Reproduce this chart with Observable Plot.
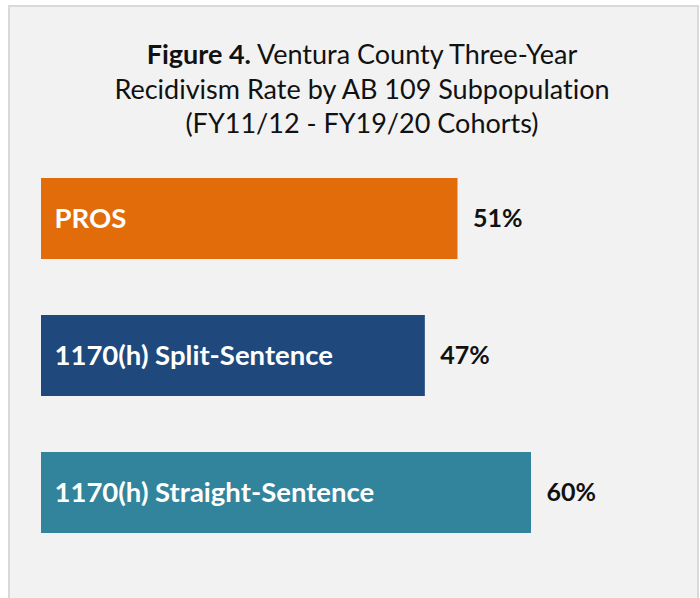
<!DOCTYPE html>
<html>
<head>
<meta charset="utf-8">
<script src="https://cdn.jsdelivr.net/npm/d3@7"></script>
<script src="https://cdn.jsdelivr.net/npm/@observablehq/plot@0.6"></script>
<style>
  html, body { margin: 0; padding: 0; width: 700px; height: 598px; overflow: hidden; background: #ffffff; font-variant-ligatures: none; }
  #frame { position: absolute; left: 8px; top: 5px; width: 687px; height: 620px; background: #f2f2f2; border: 2px solid #d9d9d9; }
  #title { position: absolute; left: 8px; width: 708px; top: 37px; text-align: center; font-family: Lato, "Open Sans", sans-serif; font-size: 27px; line-height: 34.5px; color: #111; font-variant-ligatures: none; }
  #chart { position: absolute; left: 0; top: 0; }
  #chart text { font-variant-ligatures: none; }
</style>
</head>
<body>
<div id="frame"></div>
<div id="title"><b>Figure 4.</b> Ventura County Three-Year<br>Recidivism Rate by AB 109 Subpopulation<br>(FY11/12 - FY19/20 Cohorts)</div>
<div id="chart"></div>
<script>
const categories = ["PROS", "1170(h) Split-Sentence", "1170(h) Straight-Sentence"];
const rates = [51, 47, 60];
const colors = ["#e36c0a", "#1f497d", "#31849b"];
const valueLabels = ["51%", "47%", "60%"];

const data = categories.map((c, i) => ({cat: c, rate: rates[i], color: colors[i], label: valueLabels[i]}));

const chart = Plot.plot({
  width: 700,
  height: 598,
  marginLeft: 41,
  marginRight: 169,
  marginTop: 0,
  marginBottom: 0,
  style: {background: "transparent", fontFamily: "Lato, 'Open Sans', sans-serif"},
  x: {domain: [0, 60], axis: null},
  y: {domain: categories, range: [120.6, 589.5], padding: 0.41, axis: null},
  marks: [
    Plot.barX(data, {x: "rate", y: "cat", fill: "color"}),
    Plot.text(data, {x: 0, y: "cat", text: "cat", textAnchor: "start", dx: 13, fill: "white", fontWeight: "bold", fontSize: 27.5}),
    Plot.text(data, {x: "rate", y: "cat", text: "label", textAnchor: "start", dx: 15, fill: "#111", fontWeight: "bold", fontSize: 25})
  ]
});
document.getElementById("chart").appendChild(chart);
</script>
</body>
</html>
